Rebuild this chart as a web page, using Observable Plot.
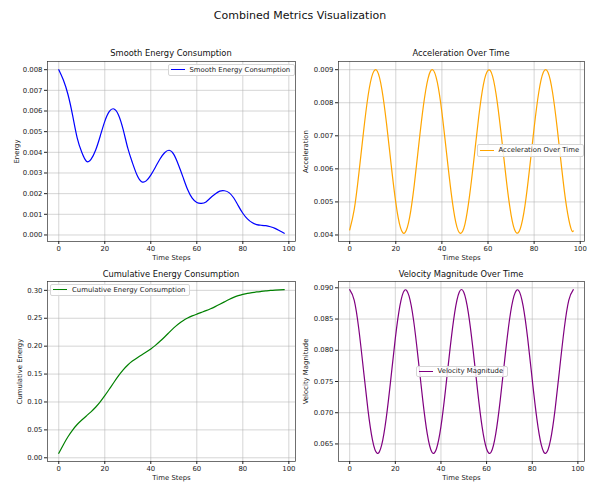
<!DOCTYPE html>
<html><head><meta charset="utf-8">
<script src="https://cdn.jsdelivr.net/npm/d3@7"></script>
<script src="https://cdn.jsdelivr.net/npm/@observablehq/plot@0.6"></script>
<style>
body{margin:0;background:#fff;font-family:"DejaVu Sans",sans-serif;}
#fig{position:relative;width:595px;height:482px;overflow:hidden;background:#fff}
.panel{position:absolute}
.title{position:absolute;transform:translate(-50%,-50%);white-space:nowrap;color:#111;line-height:1}
.legend{position:absolute;display:flex;align-items:center;border:1px solid #d6d6d6;border-radius:2px;background:rgba(255,255,255,0.85);font-size:6.9px;padding:0 4px 0 2px;white-space:nowrap;box-sizing:border-box;color:#222}
.sw{display:inline-block;width:14px;height:0;border-top:1.3px solid;margin-right:5px}
</style></head><body><div id="fig"></div><script>
// ---- data ----
const timeSteps = [0,2,4,6,8,10,12,14,16,18,20,22,24,26,28,30,32,34,36,38,40,42,44,46,48,50,52,54,56,58,60,62,64,66,68,70,72,74,76,78,80,82,84,86,88,90,92,94,96,98];
const accelerationSteps = [0,2,4,6,8,10,12,14,16,18,20,22,24,26,28,30,32,34,36,38,40,42,44,46,48,50,52,54,56,58,60,62,64,66,68,70,72,74,76,78,80,82,84,86,88,90,92,94,96,97];
const energyValues = [0.0080,0.0075,0.0068,0.0058,0.0047,0.0040,0.00357,0.00366,0.0041,0.00478,0.0055,0.00598,0.0061,0.0058,0.0051,0.0042,0.0035,0.0029,0.00258,0.00262,0.0029,0.00328,0.00368,0.00398,0.0041,0.0039,0.0034,0.0028,0.0022,0.00178,0.00157,0.00153,0.0016,0.0018,0.00198,0.00212,0.00214,0.00205,0.0018,0.00142,0.00105,0.00078,0.0006,0.0005,0.00047,0.00045,0.0004,0.00032,0.0002,0.00008];
const cumulativeValues = [0.0080,0.0235,0.0377,0.0497,0.0596,0.0677,0.0750,0.0823,0.0905,0.1002,0.1112,0.1232,0.1354,0.1472,0.1576,0.1663,0.1733,0.1790,0.1843,0.1894,0.1950,0.2014,0.2087,0.2165,0.2247,0.2327,0.2398,0.2457,0.2504,0.2542,0.2574,0.2605,0.2636,0.2670,0.2709,0.2751,0.2794,0.2837,0.2875,0.2906,0.2929,0.2947,0.2960,0.2971,0.2980,0.2989,0.2998,0.3005,0.3010,0.3012];
const accelerationValues = [0.00415,0.00478,0.00587,0.00712,0.00822,0.00888,0.00895,0.00839,0.00736,0.00612,0.00498,0.00423,0.00407,0.00453,0.00551,0.00675,0.00792,0.00874,0.00900,0.00862,0.00771,0.00649,0.00529,0.00439,0.00405,0.00433,0.00519,0.00636,0.00759,0.00855,0.00898,0.00880,0.00802,0.00687,0.00563,0.00461,0.00409,0.00419,0.00487,0.00599,0.00724,0.00831,0.00892,0.00892,0.00831,0.00724,0.00599,0.00488,0.00419,0.00412];
const velocityValues = [0.0897,0.0880,0.0834,0.0770,0.0705,0.0656,0.0635,0.0648,0.0691,0.0753,0.0819,0.0871,0.0896,0.0887,0.0848,0.0787,0.0721,0.0666,0.0637,0.0642,0.0678,0.0737,0.0803,0.0860,0.0893,0.0893,0.0860,0.0803,0.0737,0.0678,0.0642,0.0637,0.0666,0.0721,0.0787,0.0848,0.0887,0.0896,0.0871,0.0819,0.0753,0.0691,0.0648,0.0635,0.0656,0.0705,0.0770,0.0834,0.0880,0.0897];
const xTicks = [0,20,40,60,80,100];
const energyTicks = [0,0.001,0.002,0.003,0.004,0.005,0.006,0.007,0.008];
const accelerationTicks = [0.004,0.005,0.006,0.007,0.008,0.009];
const cumulativeTicks = [0,0.05,0.10,0.15,0.20,0.25,0.30];
const velocityTicks = [0.065,0.070,0.075,0.080,0.085,0.090];

const fig = document.getElementById("fig");
function pad(v){ // matplotlib-like 5% margins
  const [a,b] = d3.extent(v); const m = (b-a)*0.05; return [a-m, b+m];
}
function panel(o){
  const data = o.xs.map((x,i)=>({x, y:o.ys[i]}));
  const p = Plot.plot({
    width:o.w, height:o.h, marginLeft:o.ml, marginRight:o.mr, marginTop:o.mt, marginBottom:o.mb,
    style:{fontFamily:"DejaVu Sans", fontSize:"6.9px", color:"#222", background:"transparent", overflow:"visible"},
    x:{domain:pad(o.xs)}, y:{domain:pad(o.ys)},
    marks:[
      Plot.gridX(xTicks,{stroke:"#b0b0b0", strokeOpacity:0.9, strokeWidth:0.6}),
      Plot.gridY(o.yTicks,{stroke:"#b0b0b0", strokeOpacity:0.9, strokeWidth:0.6}),
      Plot.line(data,{x:"x", y:"y", stroke:o.color, strokeWidth:1.2, curve:"natural"}),
      Plot.frame({stroke:"#333", strokeWidth:0.7}),
      Plot.axisX(xTicks,{tickSize:3, tickPadding:2, label:"Time Steps", labelAnchor:"center", labelArrow:"none", labelOffset:18}),
      Plot.axisY(o.yTicks,{tickSize:3, tickPadding:2, tickFormat:d3.format(o.fmt), label:o.yLabel, labelAnchor:"center", labelArrow:"none", labelOffset:o.lo})
    ]
  });
  p.classList.add("panel");
  p.style.left = o.left+"px"; p.style.top = o.top+"px";
  fig.appendChild(p);
  const t = document.createElement("div");
  t.className="title"; t.textContent=o.title; t.style.fontSize="8.3px";
  t.style.left=(o.left+o.ml+(o.w-o.ml-o.mr)/2)+"px"; t.style.top=o.titleY+"px";
  fig.appendChild(t);
  const lg = document.createElement("div");
  lg.className="legend";
  lg.style.left=o.lg[0]+"px"; lg.style.top=o.lg[1]+"px"; lg.style.height=o.lg[2]+"px";
  const sw = document.createElement("span"); sw.className="sw"; sw.style.borderTopColor=o.color;
  lg.appendChild(sw); lg.appendChild(document.createTextNode(o.title2 || o.title));
  fig.appendChild(lg);
}
panel({left:0, top:50, w:297, h:215, ml:47, mr:2, mt:11, mb:24, xs:timeSteps, ys:energyValues, yTicks:energyTicks, fmt:".3f", yLabel:"Energy", lo:33, color:"blue", title:"Smooth Energy Consumption", titleY:53, lg:[167.5,63.5,12.5]});
panel({left:297, top:50, w:298, h:215, ml:41, mr:11, mt:11, mb:24, xs:accelerationSteps, ys:accelerationValues, yTicks:accelerationTicks, fmt:".3f", yLabel:"Acceleration", lo:35, color:"orange", title:"Acceleration Over Time", titleY:53, lg:[476.5,144,12.5]});
panel({left:0, top:270, w:297, h:212, ml:47, mr:2, mt:11, mb:21, xs:timeSteps, ys:cumulativeValues, yTicks:cumulativeTicks, fmt:".2f", yLabel:"Cumulative Energy", lo:30, color:"green", title:"Cumulative Energy Consumption", titleY:273.5, lg:[50,283.5,12]});
panel({left:297, top:270, w:298, h:212, ml:41, mr:11, mt:11, mb:21, xs:timeSteps, ys:velocityValues, yTicks:velocityTicks, fmt:".3f", yLabel:"Velocity Magnitude", lo:35, color:"purple", title:"Velocity Magnitude Over Time", titleY:273.5, lg:[415.5,365.5,11.5], title2:"Velocity Magnitude"});
const st = document.createElement("div");
st.className="title"; st.textContent="Combined Metrics Visualization"; st.style.fontSize="11px";
st.style.left="300px"; st.style.top="15px";
fig.appendChild(st);
</script></body></html>
